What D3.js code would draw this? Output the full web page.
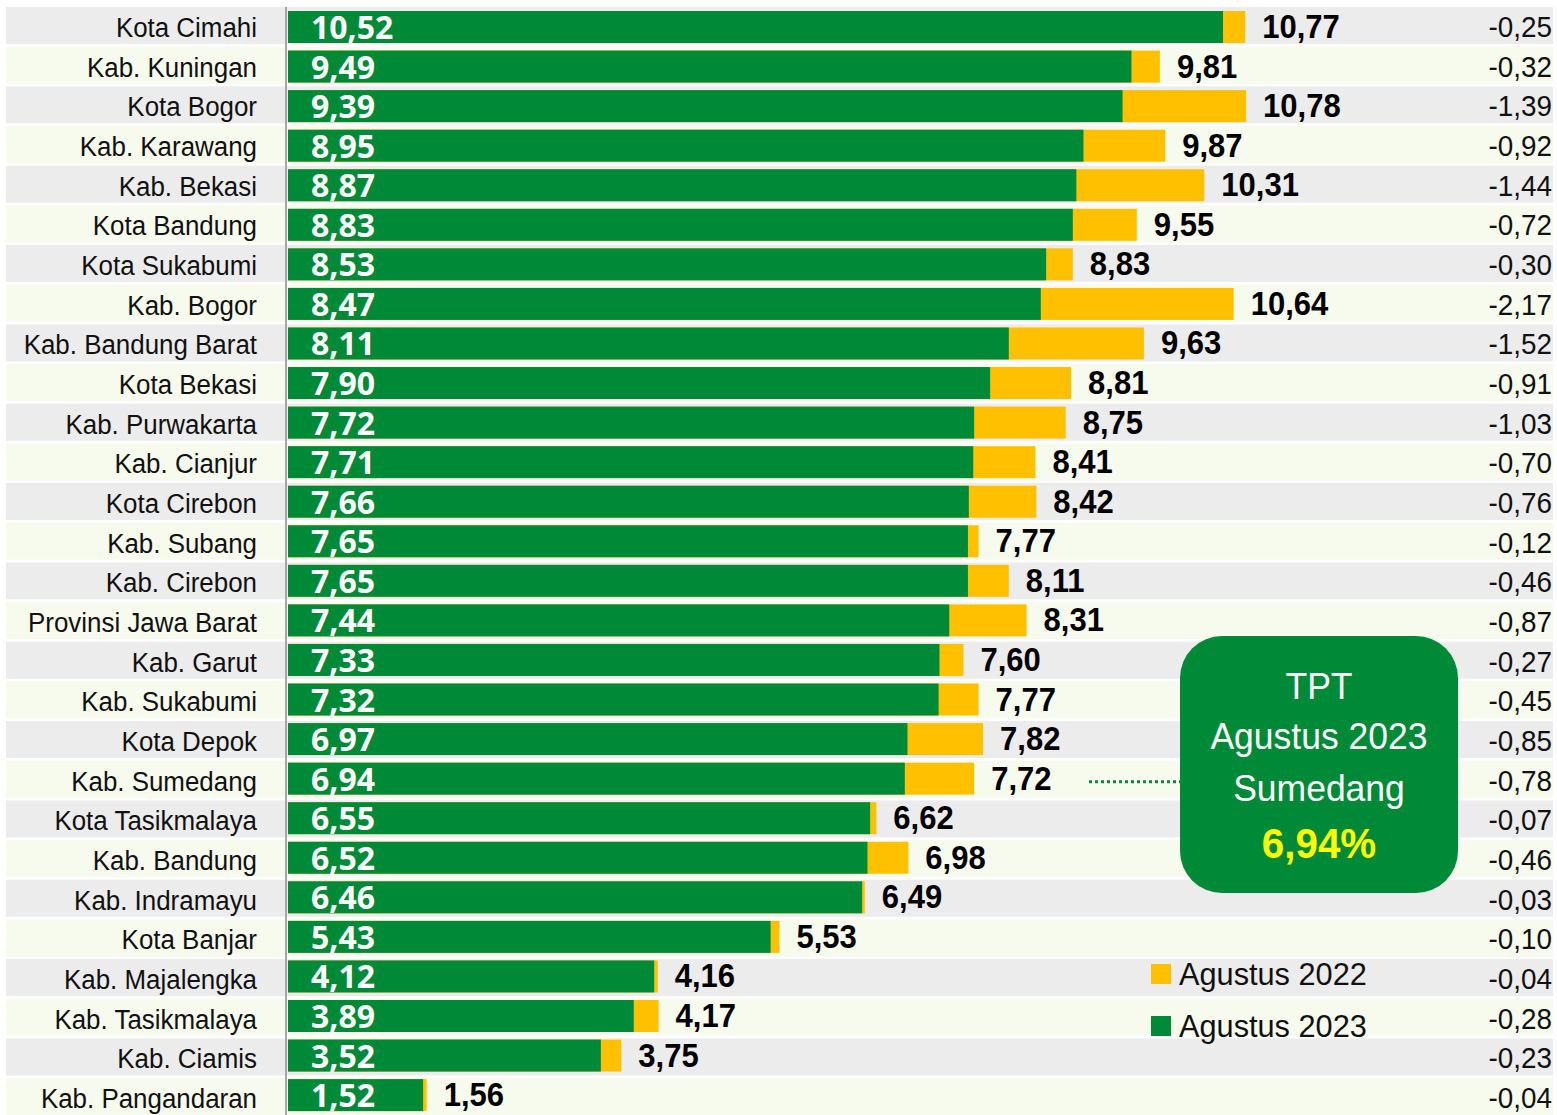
<!DOCTYPE html>
<html>
<head>
<meta charset="utf-8">
<script src="https://cdn.jsdelivr.net/npm/d3@7"></script>
<style>
  body { margin: 0; background: #fff; }
  svg { display: block; }
  .narrow { font-family: "Liberation Sans", Arial, sans-serif; }
  .inner { font-family: "Open Sans", sans-serif; font-weight: 700; }
</style>
</head>
<body>
<script>
const W = 1557, H = 1115;

// data: TPT (%) Agustus 2023, Agustus 2022 and change
const regions = ['Kota Cimahi', 'Kab. Kuningan', 'Kota Bogor', 'Kab. Karawang', 'Kab. Bekasi',
  'Kota Bandung', 'Kota Sukabumi', 'Kab. Bogor', 'Kab. Bandung Barat', 'Kota Bekasi',
  'Kab. Purwakarta', 'Kab. Cianjur', 'Kota Cirebon', 'Kab. Subang', 'Kab. Cirebon',
  'Provinsi Jawa Barat', 'Kab. Garut', 'Kab. Sukabumi', 'Kota Depok', 'Kab. Sumedang',
  'Kota Tasikmalaya', 'Kab. Bandung', 'Kab. Indramayu', 'Kota Banjar', 'Kab. Majalengka',
  'Kab. Tasikmalaya', 'Kab. Ciamis', 'Kab. Pangandaran'];
const tpt2023 = [10.52, 9.49, 9.39, 8.95, 8.87, 8.83, 8.53, 8.47, 8.11, 7.90,
  7.72, 7.71, 7.66, 7.65, 7.65, 7.44, 7.33, 7.32, 6.97, 6.94,
  6.55, 6.52, 6.46, 5.43, 4.12, 3.89, 3.52, 1.52];
const tpt2022 = [10.77, 9.81, 10.78, 9.87, 10.31, 9.55, 8.83, 10.64, 9.63, 8.81,
  8.75, 8.41, 8.42, 7.77, 8.11, 8.31, 7.60, 7.77, 7.82, 7.72,
  6.62, 6.98, 6.49, 5.53, 4.16, 4.17, 3.75, 1.56];
const change = [-0.25, -0.32, -1.39, -0.92, -1.44, -0.72, -0.30, -2.17, -1.52, -0.91,
  -1.03, -0.70, -0.76, -0.12, -0.46, -0.87, -0.27, -0.45, -0.85, -0.78,
  -0.07, -0.46, -0.03, -0.10, -0.04, -0.28, -0.23, -0.04];
const legendLabels = ['Agustus 2022', 'Agustus 2023'];
const highlight = 'Kab. Sumedang';

const green = '#008a37', yellow = '#ffc000';
const SX = 0.96; // reference uses a narrow face; squeeze Arial-metric text a bit

const fmt = v => v.toFixed(2).replace('.', ',');

const svg = d3.select('body').append('svg').attr('width', W).attr('height', H);

// scales
const x = d3.scaleLinear().domain([0, 10.52]).range([288, 1223]);
const band = d3.scalePoint().domain(regions).range([7, 7 + 27 * 39.67]);
const barY = d3.scalePoint().domain(regions).range([11, 11 + 27 * 39.56]);
const bandH = 37, barH = 32;

// row backgrounds
svg.append('g').selectAll('rect').data(regions).join('rect')
  .attr('x', 6).attr('width', 1547)
  .attr('y', d => band(d)).attr('height', bandH)
  .attr('fill', (d, i) => i % 2 ? '#f7fbee' : '#ececec');

// axis line
svg.append('line').attr('x1', 286).attr('x2', 286).attr('y1', 7).attr('y2', H)
  .attr('stroke', '#a6a6a6').attr('stroke-width', 2);

const rows = svg.append('g').selectAll('g').data(regions).join('g');

rows.append('rect')
  .attr('x', x(0)).attr('y', d => barY(d)).attr('height', barH)
  .attr('width', (d, i) => x(tpt2022[i]) - x(0)).attr('fill', yellow);
rows.append('rect')
  .attr('x', x(0)).attr('y', d => barY(d)).attr('height', barH)
  .attr('width', (d, i) => x(tpt2023[i]) - x(0)).attr('fill', green);

// region names
rows.append('text').attr('class', 'narrow')
  .attr('transform', d => `translate(257,${band(d) + 30}) scale(${SX},1)`)
  .attr('text-anchor', 'end').attr('font-size', 27).attr('fill', '#111')
  .text(d => d);

// 2023 value inside bar
rows.append('text').attr('class', 'inner')
  .attr('x', 311).attr('y', d => barY(d) + 28)
  .attr('font-size', 32).attr('fill', '#fff')
  .text((d, i) => fmt(tpt2023[i]));

// 2022 value after bar
rows.append('text').attr('class', 'narrow')
  .attr('transform', (d, i) => `translate(${x(tpt2022[i]) + 17},${barY(d) + 27}) scale(0.94,1)`)
  .attr('font-size', 33).attr('font-weight', 700).attr('fill', '#000')
  .text((d, i) => fmt(tpt2022[i]));

// change on right
rows.append('text').attr('class', 'narrow')
  .attr('transform', d => `translate(1552,${band(d) + 30}) scale(${SX},1)`)
  .attr('text-anchor', 'end').attr('font-size', 29).attr('fill', '#111')
  .text((d, i) => fmt(change[i]));

// callout
const hi = regions.indexOf(highlight);
const cy = band(highlight) + 21;
svg.append('line')
  .attr('x1', 1089).attr('x2', 1180).attr('y1', cy).attr('y2', cy)
  .attr('stroke', green).attr('stroke-width', 3).attr('stroke-dasharray', '3,3');
svg.append('rect').attr('x', 1180).attr('y', 636).attr('width', 278).attr('height', 257)
  .attr('rx', 42).attr('fill', green);
const cx = 1319;
const callout = [
  { t: 'TPT', y: 699, size: 37, fill: '#fff', w: 400 },
  { t: 'Agustus 2023', y: 749, size: 37, fill: '#fff', w: 400 },
  { t: 'Sumedang', y: 801, size: 37, fill: '#fff', w: 400 },
  { t: fmt(tpt2023[hi]) + '%', y: 858, size: 42, fill: '#ffff00', w: 700 }
];
svg.append('g').selectAll('text').data(callout).join('text').attr('class', 'narrow')
  .attr('transform', d => `translate(${cx},${d.y}) scale(${SX},1)`)
  .attr('text-anchor', 'middle').attr('font-size', d => d.size)
  .attr('font-weight', d => d.w).attr('fill', d => d.fill)
  .text(d => d.t);

// legend
const legend = svg.append('g').selectAll('g').data(legendLabels).join('g')
  .attr('transform', (d, i) => `translate(1151,${964 + i * 52})`);
legend.append('rect').attr('width', 20).attr('height', 20)
  .attr('fill', (d, i) => i ? green : yellow);
legend.append('text').attr('class', 'narrow')
  .attr('transform', `translate(28,21) scale(${SX},1)`)
  .attr('font-size', 32).attr('fill', '#111')
  .text(d => d);
</script>
</body>
</html>
